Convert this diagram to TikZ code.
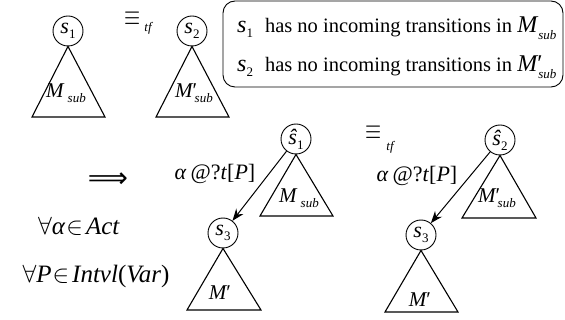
\documentclass[tikz,border=0pt]{standalone}
\usepackage{graphicx}
\usepackage[no-math]{fontspec}
\setmainfont{Liberation Serif}
\newfontfamily\symsans{DejaVu Sans}
\usetikzlibrary{arrows.meta}
\newcommand\vm[1]{\textit{#1}}
% subscripts of a given size, lowered
\newcommand\lsub[3]{\raisebox{-#1}{\fontsize{#2}{#2}\selectfont #3}}
\newcommand\pr{{\upshape ′}}
\tikzset{
  st/.style={circle, draw, line width=0.9pt, minimum size=30pt, inner sep=0pt,
             font=\fontsize{22}{24}\selectfont\itshape},
  tri/.style={draw, line width=1.1pt, line join=miter},
  lab/.style={font=\fontsize{21}{24}\selectfont\itshape, inner sep=0pt, anchor=base},
  big/.style={font=\fontsize{25}{27}\selectfont, inner sep=0pt},
  txt/.style={font=\fontsize{20.5}{24}\selectfont, inner sep=0pt, anchor=base west},
  eqv/.style={font=\fontsize{22}{22}\selectfont, inner sep=0pt},
  tfl/.style={font=\fontsize{13}{13}\selectfont\itshape, inner sep=0pt},
  arr/.style={-{Stealth[length=12pt,width=9pt]}, line width=1pt}
}
\begin{document}
\begin{tikzpicture}[x=1pt,y=-1pt]
\useasboundingbox (0,0) rectangle (565,320);

% top left
\node[st] (s1) at (68,31) {s\lsub{5pt}{13pt}{\upshape 1}};
\coordinate (t1l) at (32,117); \coordinate (t1r) at (105,117);
\draw[tri] (s1.south) -- (t1l) -- (t1r) -- cycle;
\node[lab] (m1) at (66,98) {M\hspace{4pt}\lsub{5pt}{13pt}{sub}};

\node[eqv] (eq1) at (133,19) {\scalebox{1.0}[1.4]{$\equiv$}};
\node[tfl] (tf1) at (148,28) {tf};

\node[st] (s2) at (192,31) {s\lsub{5pt}{13pt}{\upshape 2}};
\coordinate (t2l) at (156,117); \coordinate (t2r) at (229,117);
\draw[tri] (s2.south) -- (t2l) -- (t2r) -- cycle;
\node[lab] (m2) at (194,98) {M\rlap{\pr}\hspace{2pt}\lsub{5pt}{13pt}{sub}};

% box
\node[draw, rounded corners=12pt, line width=0.9pt, minimum width=340pt,
      minimum height=86pt, inner sep=0pt] (box) at (393,44) {};
\node[txt] (l1) at (237,33) {{\fontsize{24}{24}\selectfont\itshape s}\lsub{5pt}{13pt}{1}\hspace{12pt}has no incoming transitions in {\fontsize{24}{24}\selectfont\itshape M}\hspace{1pt}\lsub{7pt}{13pt}{\itshape sub}};
\node[txt] (l2) at (237,72) {{\fontsize{24}{24}\selectfont\itshape s}\lsub{5pt}{13pt}{2}\hspace{12pt}has no incoming transitions in {\fontsize{24}{24}\selectfont\itshape M\rlap{\pr}}\hspace{1pt}\lsub{7pt}{13pt}{\itshape sub}};

% middle left
\node[inner sep=0pt, font=\symsans\fontsize{28}{28}\selectfont] (imp) at (108,180) {⟹};
\node[big] (fa1) at (79,226) {$\forall$\vm{α}\hspace{1pt}$\in$\hspace{3pt}\vm{Act}};
\node[big] (fa2) at (96,276) {$\forall$\vm{P}\hspace{1pt}$\in$\hspace{3pt}\vm{Intvl}(\vm{Var})};

% right part 1
\node[st] (h1) at (296,139) {ŝ\lsub{5pt}{13pt}{\upshape 1}};
\coordinate (t3l) at (260,216); \coordinate (t3r) at (333,216);
\draw[tri] (h1.south) -- (t3l) -- (t3r) -- cycle;
\node[lab] (m3) at (299,203) {M\hspace{4pt}\lsub{5pt}{13pt}{sub}};

\node[st] (s3) at (223,233) {s\lsub{5pt}{13pt}{\upshape 3}};
\coordinate (t4l) at (187,310); \coordinate (t4r) at (261,310);
\draw[tri] (s3.south) -- (t4l) -- (t4r) -- cycle;
\node[lab] (m4) at (220,300) {M\pr};

\draw[arr] (h1) -- (s3);
\node[inner sep=0pt, font=\fontsize{22}{24}\selectfont] (a1) at (215,174) {\vm{α}\hspace{4pt}@?\vm{t}[\vm{P}]};

% equivalence
\node[eqv] (eq2) at (374,133) {\scalebox{1.0}[1.4]{$\equiv$}};
\node[tfl] (tf2) at (390,147) {tf};

% right part 2
\node[st] (h2) at (500,140) {ŝ\lsub{5pt}{13pt}{\upshape 2}};
\coordinate (t5l) at (462,218); \coordinate (t5r) at (536,218);
\draw[tri] (h2.south) -- (t5l) -- (t5r) -- cycle;
\node[lab] (m5) at (497,203) {M\rlap{\pr}\hspace{2pt}\lsub{5pt}{13pt}{sub}};

\node[st] (s4) at (421,235) {s\lsub{5pt}{13pt}{\upshape 3}};
\coordinate (t6l) at (385,312); \coordinate (t6r) at (458,312);
\draw[tri] (s4.south) -- (t6l) -- (t6r) -- cycle;
\node[lab] (m6) at (420,307) {M\pr};

\draw[arr] (h2) -- (s4);
\node[inner sep=0pt, font=\fontsize{22}{24}\selectfont] (a2) at (417,176) {\vm{α}\hspace{4pt}@?\vm{t}[\vm{P}]};
\end{tikzpicture}
\end{document}
